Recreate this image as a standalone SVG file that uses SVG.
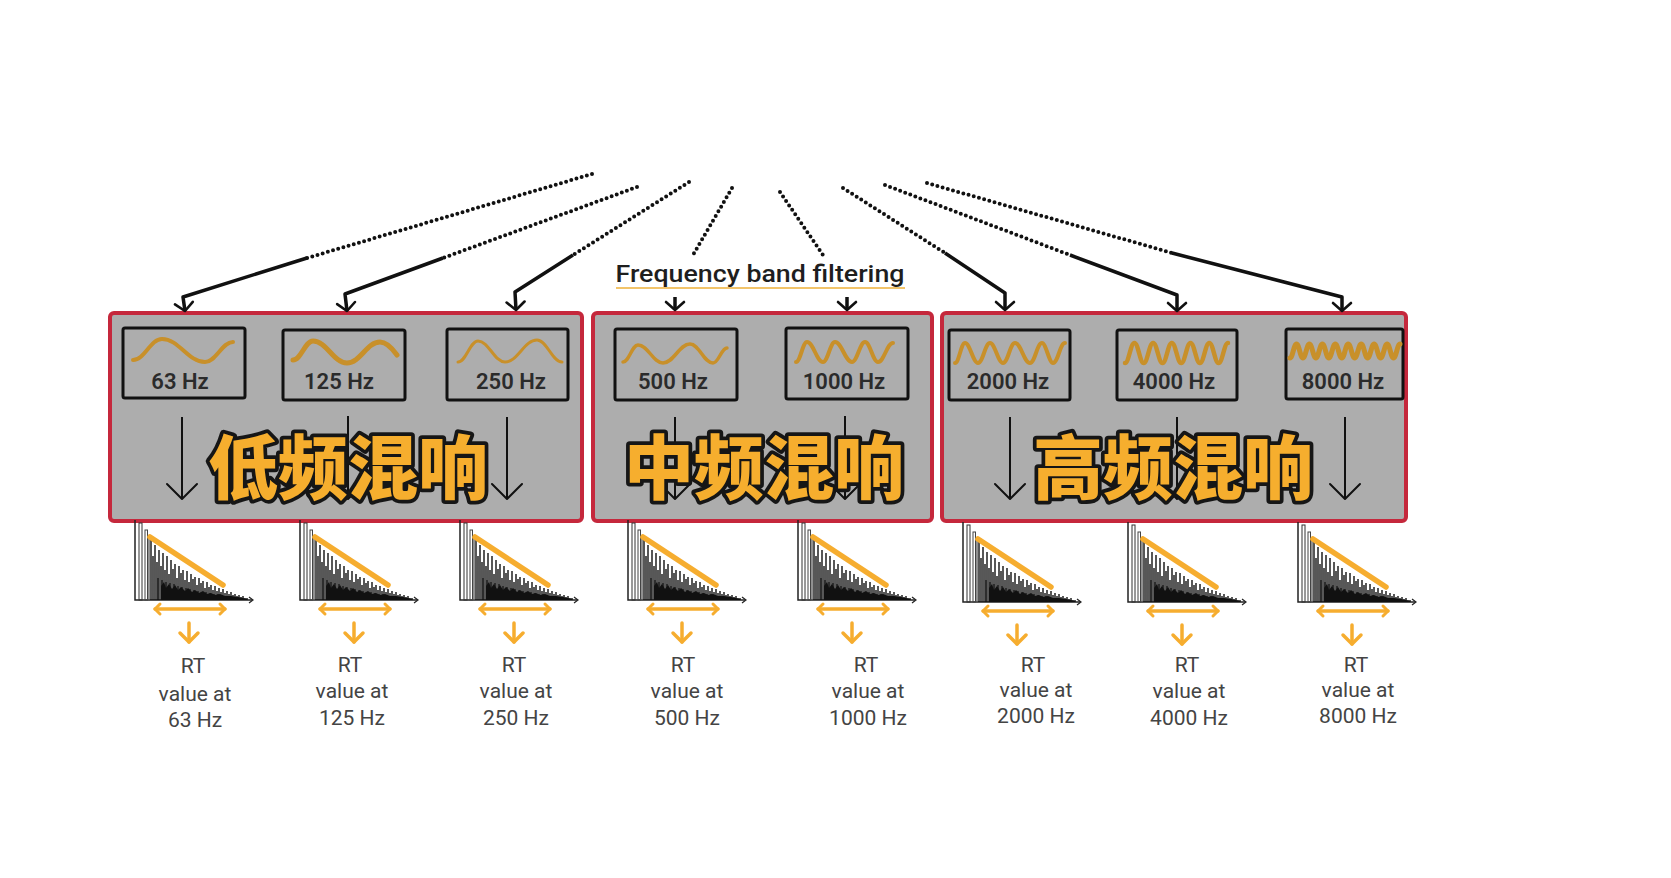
<svg xmlns="http://www.w3.org/2000/svg" width="1671" height="878" viewBox="0 0 1671 878">
<style>
.band{fill:#ADADAD;stroke:#C5283C;stroke-width:4}
.fbox{fill:none;stroke:#111;stroke-width:3;stroke-linejoin:round}
.wave{fill:none;stroke:#C8902A;stroke-linecap:round;stroke-linejoin:round}
.flab{font-family:Roboto,"Liberation Sans",sans-serif;font-size:22px;font-weight:600;fill:#2b2b2b;text-anchor:middle}
.dot{fill:none;stroke:#111;stroke-width:4;stroke-dasharray:0 5.4;stroke-linecap:round}
.solid{fill:none;stroke:#111;stroke-width:3.5;stroke-linejoin:round;marker-end:url(#ah)}
.inarr{fill:none;stroke:#111;stroke-width:2;marker-end:url(#ahb)}
.cn{font-family:"Noto Sans CJK SC","Noto Sans CJK JP",sans-serif;font-size:70px;font-weight:900;fill:#F6AE2E;stroke:#161616;stroke-width:7.5;stroke-linejoin:round;paint-order:stroke;text-anchor:middle}
.rt{font-family:Roboto,"Liberation Sans",sans-serif;font-size:21px;fill:#444;text-anchor:middle}
.title{font-family:Roboto,"Liberation Sans",sans-serif;font-size:24px;font-weight:500;fill:#1e1e1e}
</style>
<defs>
<marker id="ah" viewBox="-12 -12 24 24" markerWidth="24" markerHeight="24" markerUnits="userSpaceOnUse" orient="auto" refX="0" refY="0">
<path d="M-8 -9 L0 0 L-8 9" fill="none" stroke="#111" stroke-width="2.6" stroke-linecap="round" stroke-linejoin="round"/>
</marker>
<marker id="ahb" viewBox="-18 -18 36 36" markerWidth="36" markerHeight="36" markerUnits="userSpaceOnUse" orient="auto" refX="0" refY="0">
<path d="M-15 -15 L0 0 L-15 15" fill="none" stroke="#111" stroke-width="2" stroke-linecap="round" stroke-linejoin="round"/>
</marker>
<marker id="oh" viewBox="-8 -8 16 16" markerWidth="16" markerHeight="16" markerUnits="userSpaceOnUse" orient="auto-start-reverse" refX="0" refY="0">
<path d="M-5 -5 L0 0 L-5 5" fill="none" stroke="#F6AD2F" stroke-width="3" stroke-linecap="round" stroke-linejoin="round"/>
</marker>
<marker id="ohd" viewBox="-12 -12 24 24" markerWidth="24" markerHeight="24" markerUnits="userSpaceOnUse" orient="auto" refX="0" refY="0">
<path d="M-9 -9 L0 0 L-9 9" fill="none" stroke="#F6AD2F" stroke-width="3.5" stroke-linecap="round" stroke-linejoin="round"/>
</marker>
<g id="decay">
<path d="M0 -80 V0 H117" fill="none" stroke="#222" stroke-width="1.5"/>
<path d="M114 -3 L118 0 L114 3" fill="none" stroke="#222" stroke-width="1.2"/>
<rect x="4" y="-77" width="3" height="77" fill="none" stroke="#333" stroke-width="1"/>
<rect x="10" y="-70" width="2.5" height="70" fill="none" stroke="#444" stroke-width="1"/>
<path stroke="#555" stroke-width="1.3" fill="none" d="M14 0V-62"/>
<path stroke="#111" stroke-width="1.4" fill="none" d="M16 0V-60M18 0V-44M20 0V-55M22 0V-38M24 0V-50M26 0V-34M28 0V-47M30 0V-30M32 0V-44M34 0V-26M36 0V-40M38 0V-31M40 0V-36M42 0V-22M44 0V-34M46 0V-27M48 0V-30M50 0V-20M52 0V-29M54 0V-18M56 0V-26M58 0V-21M60 0V-23M62 0V-15M64 0V-22M66 0V-17M68 0V-19M70 0V-12M72 0V-18M74 0V-13M76 0V-15M78 0V-10M80 0V-14M82 0V-9M84 0V-12M86 0V-8M88 0V-11M90 0V-7M92 0V-9M94 0V-6M96 0V-8M98 0V-5M100 0V-6M102 0V-4M104 0V-5M106 0V-3M108 0V-4M110 0V-2M112 0V-2"/>
<path stroke="#111" stroke-width="1.2" fill="none" d="M23 0V-22M27 0V-20M31 0V-18M35 0V-17M39 0V-16M43 0V-14M47 0V-13M51 0V-12M55 0V-11M59 0V-10M63 0V-9M67 0V-8M71 0V-8M75 0V-7M79 0V-6M83 0V-6M87 0V-5M91 0V-4M95 0V-4M99 0V-3M103 0V-3M107 0V-2"/>
<path fill="#111" d="M26 0 L26 -14 L29 -18 L31 -12 L34 -16 L37 -11 L40 -15 L43 -10 L46 -13 L50 -9 L53 -12 L57 -8 L60 -10 L64 -7 L68 -9 L72 -6 L76 -7 L80 -5 L85 -6 L90 -4 L96 -4 L102 -3 L108 -2 L112 -1 L112 0 Z"/>
<path d="M15 -63 L88 -15" stroke="#F6AD2F" stroke-width="5.5" stroke-linecap="round"/>
<path d="M20 9 L90 9" stroke="#F6AD2F" stroke-width="3.5" stroke-linecap="round" marker-start="url(#oh)" marker-end="url(#oh)"/>
<path d="M54 23 V42" stroke="#F6AD2F" stroke-width="3.5" stroke-linecap="round" marker-end="url(#ohd)"/>
</g>
</defs>
<rect x="0" y="0" width="1671" height="878" fill="#fff"/>

<g id="band-low"><rect class="band" x="110" y="313" width="472" height="208" rx="4"/></g>
<g id="band-mid"><rect class="band" x="593" y="313" width="339" height="208" rx="4"/></g>
<g id="band-high"><rect class="band" x="942" y="313" width="464" height="208" rx="4"/></g>

<g id="f63">
<rect class="fbox" x="123" y="328" width="122" height="70" rx="2"/>
<path class="wave" stroke-width="4" d="M133 360 C144.6 360 150.4 339 162 339 C179.2 339 187.8 362 205 362 C216.2 362 221.8 342 233 342"/>
<text class="flab" x="180" y="389">63 Hz</text>
</g>
<g id="f125">
<rect class="fbox" x="283" y="330" width="122" height="70" rx="2"/>
<path class="wave" stroke-width="5" d="M293 360 C301 360 305 341 313 341 C326.6 341 333.4 363 347 363 C360.2 363 366.8 342 380 342 C386.8 342 392 348 397 355"/>
<text class="flab" x="339" y="389">125 Hz</text>
</g>
<g id="f250">
<rect class="fbox" x="447" y="329" width="121" height="71" rx="2"/>
<path class="wave" stroke-width="3" d="M458 362 C466 362 470 341 478 341 C488.8 341 494.2 362 505 362 C517.8 362 524.2 340 537 340 C547 340 552 362 562 362"/>
<text class="flab" x="511" y="389">250 Hz</text>
</g>
<g id="f500">
<rect class="fbox" x="615" y="329" width="122" height="71" rx="2"/>
<path class="wave" stroke-width="3.5" d="M623 362 C629 362 632 345 638 345 C648 345 653 363 663 363 C673.8 363 679.2 344 690 344 C699.2 344 703.8 363 713 363 C718.6 363 721.4 348 727 348"/>
<text class="flab" x="673" y="389">500 Hz</text>
</g>
<g id="f1000">
<rect class="fbox" x="786" y="328" width="122" height="71" rx="2"/>
<path class="wave" stroke-width="4" d="M796 362 C800.4 362 802.6 342 807 342 C813.4 342 816.6 362 823 362 C827.8 362 830.2 342 835 342 C841.8 342 845.2 362 852 362 C857.2 362 859.8 342 865 342 C870.2 342 872.8 362 878 362 C884 362 887 343 893 343"/>
<text class="flab" x="844" y="389">1000 Hz</text>
</g>
<g id="f2000">
<rect class="fbox" x="949" y="330" width="121" height="70" rx="2"/>
<path class="wave" stroke-width="4" d="M955 363 C959 363 961 343 965 343 C970 343 973 363 978 363 C983 363 985 343 990 343 C995 343 998 363 1003 363 C1008 363 1010 343 1015 343 C1021 343 1024 363 1030 363 C1035 363 1037 343 1042 343 C1046 343 1049 363 1053 363 C1058 363 1060 343 1065 343"/>
<text class="flab" x="1008" y="389">2000 Hz</text>
</g>
<g id="f4000">
<rect class="fbox" x="1117" y="330" width="120" height="70" rx="2"/>
<path class="wave" stroke-width="4.5" d="M1125 363 C1128.8 363 1130.6 343 1134.4 343 S1139.9 363 1143.7 363 S1149.3 343 1153.1 343 S1158.7 363 1162.5 363 S1168 343 1171.8 343 S1177.4 363 1181.2 363 S1186.7 343 1190.5 343 S1196.1 363 1199.9 363 S1205.5 343 1209.3 343 S1214.8 363 1218.6 363 S1224.2 343 1228 343"/>
<text class="flab" x="1174" y="389">4000 Hz</text>
</g>
<g id="f8000">
<rect class="fbox" x="1286" y="329" width="117" height="70" rx="2"/>
<path class="wave" stroke-width="5" d="M1290 358 C1292.6 358 1293.9 344 1296.5 344 S1300.3 358 1302.9 358 S1306.8 344 1309.4 344 S1313.3 358 1315.9 358 S1319.8 344 1322.4 344 S1326.2 358 1328.8 358 S1332.7 344 1335.3 344 S1339.2 358 1341.8 358 S1345.6 344 1348.2 344 S1352.1 358 1354.7 358 S1358.6 344 1361.2 344 S1365 358 1367.6 358 S1371.5 344 1374.1 344 S1378 358 1380.6 358 S1384.5 344 1387.1 344 S1390.9 358 1393.5 358 S1397.4 344 1400 344"/>
<text class="flab" x="1343" y="389">8000 Hz</text>
</g>

<g id="connectors">
<path class="dot" d="M592 174 L307 258"/>
<path class="dot" d="M637 187 L443 258"/>
<path class="dot" d="M689 182 L573 255"/>
<path class="dot" d="M732 188 L693 255"/>
<path class="dot" d="M780 192 L823 255"/>
<path class="dot" d="M843 188 L945 253"/>
<path class="dot" d="M885 185 L1070 255"/>
<path class="dot" d="M927 183 L1172 253"/>
<path class="solid" d="M307 258 L183 297 L185 311"/>
<path class="solid" d="M443 258 L345 294 L347 311"/>
<path class="solid" d="M573 255 L515 292 L516 310"/>
<path class="solid" d="M945 253 L1005 293 L1005 310"/>
<path class="solid" d="M1070 255 L1177 295 L1177 311"/>
<path class="solid" d="M1172 253 L1342 297 L1342 311"/>
<path class="solid" stroke-width="2.5" d="M675 297 L675 310"/>
<path class="solid" stroke-width="2.5" d="M847 297 L847 310"/>
<path class="inarr" d="M182 417 L182 499"/>
<path class="inarr" d="M348 416 L348 499"/>
<path class="inarr" d="M507 417 L507 499"/>
<path class="inarr" d="M675 417 L675 499"/>
<path class="inarr" d="M845 416 L845 499"/>
<path class="inarr" d="M1010 417 L1010 499"/>
<path class="inarr" d="M1177 417 L1177 499"/>
<path class="inarr" d="M1345 417 L1345 499"/>
</g>

<g id="filter-label">
<text class="title" x="760" y="282" text-anchor="middle" textLength="289" lengthAdjust="spacingAndGlyphs">Frequency band filtering</text>
<line x1="616" y1="288" x2="905" y2="288" stroke="#F2C46A" stroke-width="2"/>
</g>

<g id="band-titles">
<text class="cn" x="348" y="494">低频混响</text>
<text class="cn" x="764" y="494">中频混响</text>
<text class="cn" x="1173" y="494">高频混响</text>
</g>

<g id="rt63"><use href="#decay" x="135" y="600"/>
<text class="rt" x="193" y="673">RT</text><text class="rt" x="195" y="701">value at</text><text class="rt" x="195" y="727">63 Hz</text></g>
<g id="rt125"><use href="#decay" x="300" y="600"/>
<text class="rt" x="350" y="672">RT</text><text class="rt" x="352" y="698">value at</text><text class="rt" x="352" y="725">125 Hz</text></g>
<g id="rt250"><use href="#decay" x="460" y="600"/>
<text class="rt" x="514" y="672">RT</text><text class="rt" x="516" y="698">value at</text><text class="rt" x="516" y="725">250 Hz</text></g>
<g id="rt500"><use href="#decay" x="628" y="600"/>
<text class="rt" x="683" y="672">RT</text><text class="rt" x="687" y="698">value at</text><text class="rt" x="687" y="725">500 Hz</text></g>
<g id="rt1000"><use href="#decay" x="798" y="600"/>
<text class="rt" x="866" y="672">RT</text><text class="rt" x="868" y="698">value at</text><text class="rt" x="868" y="725">1000 Hz</text></g>
<g id="rt2000"><use href="#decay" x="963" y="602"/>
<text class="rt" x="1033" y="672">RT</text><text class="rt" x="1036" y="697">value at</text><text class="rt" x="1036" y="723">2000 Hz</text></g>
<g id="rt4000"><use href="#decay" x="1128" y="602"/>
<text class="rt" x="1187" y="672">RT</text><text class="rt" x="1189" y="698">value at</text><text class="rt" x="1189" y="725">4000 Hz</text></g>
<g id="rt8000"><use href="#decay" x="1298" y="602"/>
<text class="rt" x="1356" y="672">RT</text><text class="rt" x="1358" y="697">value at</text><text class="rt" x="1358" y="723">8000 Hz</text></g>
</svg>
